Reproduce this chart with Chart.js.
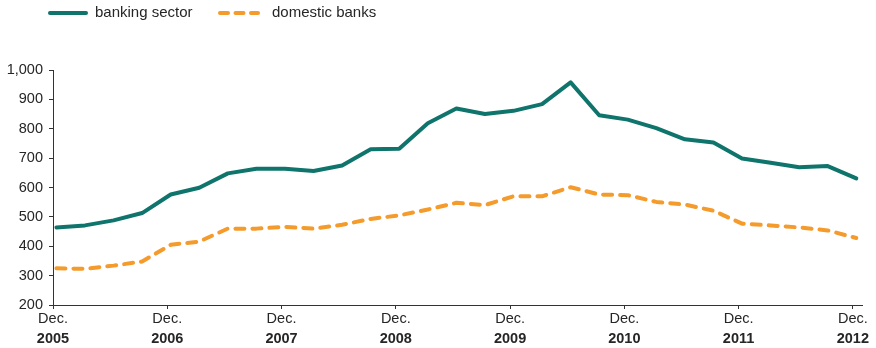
<!DOCTYPE html>
<html>
<head>
<meta charset="utf-8">
<script src="https://cdn.jsdelivr.net/npm/chart.js@4.4.0/dist/chart.umd.min.js"></script>
<style>
  html, body { margin: 0; padding: 0; background: #ffffff; }
  #wrap { width: 876px; height: 348px; position: relative; }
</style>
</head>
<body>
<div id="wrap"><canvas id="c" width="876" height="348"></canvas></div>
<script>
// Quarterly observations, Dec 2005 .. Dec 2012
const quarters = [
  "Dec 2005","Mar 2006","Jun 2006","Sep 2006",
  "Dec 2006","Mar 2007","Jun 2007","Sep 2007",
  "Dec 2007","Mar 2008","Jun 2008","Sep 2008",
  "Dec 2008","Mar 2009","Jun 2009","Sep 2009",
  "Dec 2009","Mar 2010","Jun 2010","Sep 2010",
  "Dec 2010","Mar 2011","Jun 2011","Sep 2011",
  "Dec 2011","Mar 2012","Jun 2012","Sep 2012",
  "Dec 2012"
];
const bankingSector = [
  464, 471, 488, 513,
  576, 599, 648, 664,
  664, 656, 675, 730,
  732, 819, 869, 850,
  861, 884, 958, 846,
  831, 802, 764, 753,
  699, 684, 669, 673,
  631
];
const domesticBanks = [
  325, 323, 334, 348,
  405, 416, 460, 460,
  466, 460, 473, 493,
  505, 525, 548, 540,
  570, 570, 601, 576,
  574, 551, 542, 521,
  477, 471, 464, 454,
  428
];
const tickMonth = ["Dec.","Dec.","Dec.","Dec.","Dec.","Dec.","Dec.","Dec."];
const tickYears = ["2005","2006","2007","2008","2009","2010","2011","2012"];
const seriesNames = ["banking sector", "domestic banks"];
const yTicks = [200, 300, 400, 500, 600, 700, 800, 900, 1000];

const TEAL = '#0f746c';
const ORANGE = '#f49b2c';
const TEXT = '#262626';
const FONT = "'Liberation Sans', Arial, Helvetica, sans-serif";
// tick marks sit slightly before the quarter-end observations
const labelShift = 0.12;

const toPoints = arr => arr.map((v, i) => ({ x: i, y: v }));

function yearTicks(scale) {
  scale.ticks = tickYears.map((_, k) => ({ value: k * 4 - labelShift }));
}
function idxOf(value) { return Math.round((value + labelShift) / 4); }

const legendPlugin = {
  id: 'customLegend',
  afterDraw(chart) {
    const ctx = chart.ctx;
    const items = [
      { x0: 48, x1: 88, tx: 95, color: TEAL, dash: [] },
      { x0: 218, x1: 260, tx: 272, color: ORANGE, dash: [8, 7.5] }
    ];
    ctx.save();
    items.forEach((it, i) => {
      const y = 13;
      ctx.beginPath();
      ctx.setLineDash(it.dash);
      ctx.lineCap = 'round';
      ctx.lineWidth = 4;
      ctx.strokeStyle = it.color;
      ctx.moveTo(it.x0 + 2, y);
      ctx.lineTo(it.x1 - 2, y);
      ctx.stroke();
      ctx.setLineDash([]);
      ctx.fillStyle = TEXT;
      ctx.font = "15px " + FONT;
      ctx.textBaseline = 'middle';
      ctx.textAlign = 'left';
      ctx.fillText(chart.data.datasets[i].label, it.tx, y);
    });
    ctx.restore();
  }
};

new Chart(document.getElementById('c'), {
  type: 'line',
  data: {
    datasets: [
      {
        label: seriesNames[0],
        data: toPoints(bankingSector),
        borderColor: TEAL,
        backgroundColor: TEAL,
        borderWidth: 4,
        pointRadius: 0,
        tension: 0,
        borderJoinStyle: 'round',
        borderCapStyle: 'round',
        xAxisID: 'x'
      },
      {
        label: seriesNames[1],
        data: toPoints(domesticBanks),
        borderColor: ORANGE,
        backgroundColor: ORANGE,
        borderWidth: 4,
        borderDash: [9, 8],
        pointRadius: 0,
        tension: 0,
        borderJoinStyle: 'round',
        borderCapStyle: 'round',
        xAxisID: 'x'
      }
    ]
  },
  options: {
    responsive: false,
    animation: false,
    devicePixelRatio: 1,
    layout: { padding: { top: 70, right: 14, left: 0, bottom: 0 } },
    plugins: { legend: { display: false }, tooltip: { enabled: false } },
    scales: {
      x: {
        type: 'linear',
        position: 'bottom',
        min: -labelShift,
        max: 28.2,
        afterBuildTicks: yearTicks,
        afterFit: s => { s.height = 22; },
        grid: { drawOnChartArea: false, drawTicks: true, tickLength: 4, color: '#333' },
        border: { color: '#333', width: 1 },
        ticks: {
          autoSkip: false,
          maxRotation: 0,
          padding: 1,
          color: TEXT,
          font: { family: FONT, size: 14.5 },
          callback: v => tickMonth[idxOf(v)]
        }
      },
      x2: {
        type: 'linear',
        position: 'bottom',
        min: -labelShift,
        max: 28.2,
        afterBuildTicks: yearTicks,
        afterFit: s => { s.height = 21; },
        grid: { display: false, drawTicks: false },
        border: { display: false },
        ticks: {
          autoSkip: false,
          maxRotation: 0,
          padding: 3,
          color: TEXT,
          font: { family: FONT, size: 14.5, weight: 'bold' },
          callback: v => tickYears[idxOf(v)]
        }
      },
      y: {
        min: 200,
        max: 1000,
        afterBuildTicks: s => { s.ticks = yTicks.map(v => ({ value: v })); },
        afterFit: s => { s.width = 53; },
        grid: { drawOnChartArea: false, drawTicks: true, tickLength: 4, color: '#333' },
        border: { color: '#333', width: 1 },
        ticks: {
          padding: 6,
          color: TEXT,
          font: { family: FONT, size: 14.5 },
          callback: v => v.toLocaleString('en-US')
        }
      }
    }
  },
  plugins: [legendPlugin]
});
</script>
</body>
</html>
